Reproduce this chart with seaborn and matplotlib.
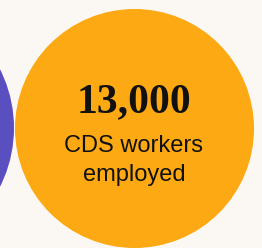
import numpy as np
import pandas as pd
import matplotlib
matplotlib.use("Agg")
import matplotlib.pyplot as plt
import seaborn as sns

# bubble data (purple value estimated from its area, only its edge is shown)
groups = ["other", "CDS workers"]
values = [15500, 13000]
colors = ["#5a4fbf", "#fca913"]
big_label = "13,000"
sub_lines = ["CDS workers", "employed"]

W, H, DPI = 262, 248, 100
bg = "#fbf8f4"

sns.set_theme(style="white")
fig = plt.figure(figsize=(W / DPI, H / DPI), dpi=DPI, facecolor=bg)
ax = fig.add_axes([0, 0, 1, 1])
ax.set_facecolor(bg)

# radius in px from sqrt(value); 13,000 -> 119.5 px
rad = 119.5 * np.sqrt(np.array(values) / values[1])
df = pd.DataFrame({"group": groups, "value": values,
                   "x": [14 - rad[0], 134.5], "y": [128, 128.5]})
# marker size in points^2 (diameter px -> pt)
s = (2 * rad * 72 / DPI) ** 2

sns.scatterplot(data=df, x="x", y="y", hue="group", palette=colors,
                s=s, linewidth=0, legend=False, ax=ax, alpha=1)

ax.set_xlim(0, W)
ax.set_ylim(H, 0)
ax.set_axis_off()

ax.text(134, 112, big_label, ha="center", va="baseline",
        fontsize=30, fontweight="bold", family="Liberation Serif", color="#111")
for i, line in enumerate(sub_lines):
    ax.text(134, 152 + 29 * i, line, ha="center", va="baseline",
            fontsize=17, family="Liberation Sans", color="#111")

fig.savefig("out.png", dpi=DPI, facecolor=bg)
